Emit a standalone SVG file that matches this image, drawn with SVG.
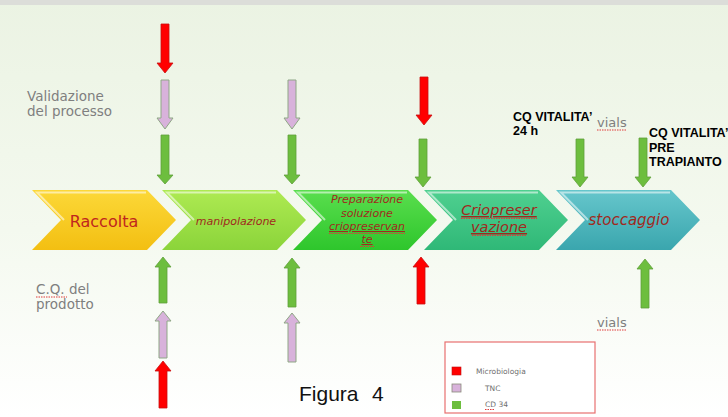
<svg xmlns="http://www.w3.org/2000/svg" width="728" height="417" viewBox="0 0 728 417">
<defs>
<linearGradient id="bg" x1="0" y1="0" x2="0" y2="1">
<stop offset="0" stop-color="#ebf3e3"/>
<stop offset="0.55" stop-color="#f4f9ef"/>
<stop offset="1" stop-color="#ffffff"/>
</linearGradient>
<linearGradient id="gY" x1="0" y1="0" x2="0" y2="1"><stop offset="0" stop-color="#fcd838"/><stop offset="1" stop-color="#f3bf12"/></linearGradient>
<linearGradient id="gL" x1="0" y1="0" x2="0" y2="1"><stop offset="0" stop-color="#aeea52"/><stop offset="1" stop-color="#8bd43a"/></linearGradient>
<linearGradient id="gG" x1="0" y1="0" x2="0" y2="1"><stop offset="0" stop-color="#5ade4e"/><stop offset="1" stop-color="#2ec62c"/></linearGradient>
<linearGradient id="gT" x1="0" y1="0" x2="0" y2="1"><stop offset="0" stop-color="#4fd090"/><stop offset="1" stop-color="#2fb877"/></linearGradient>
<linearGradient id="gB" x1="0" y1="0" x2="0" y2="1"><stop offset="0" stop-color="#66c6cc"/><stop offset="1" stop-color="#3aa6ae"/></linearGradient>
</defs>
<style>
.hl{fill:none;stroke:#ffffff;stroke-opacity:0.55;stroke-width:2}
.gray{font-family:"DejaVu Sans",sans-serif;fill:#7f7f7f}
.lbl{font-family:"DejaVu Sans",sans-serif;font-style:italic;fill:#a02a1e;text-anchor:middle}
.bold{font-family:"Liberation Sans",Arial,sans-serif;font-weight:bold;font-size:12.5px;fill:#000}
.red{fill:#ff0000;stroke:#c81010;stroke-width:0.8}
.lav{fill:#d8b2db;stroke:#8fa786;stroke-width:1}
.grn{fill:#6dbe3e;stroke:#5f9f3a;stroke-width:0.8}
.wavy{fill:none;stroke:#e03a3a;stroke-width:1;stroke-dasharray:1.5 1}
.leg{font-family:"DejaVu Sans",sans-serif;font-size:7.5px;fill:#707070}
</style>
<rect x="0" y="0" width="728" height="417" fill="url(#bg)"/>
<rect x="0" y="0" width="728" height="5" fill="#dcddd9"/>

<g id="raccolta">
<polygon points="32,190 147,190 176,220 147,250 32,250 61,220" fill="url(#gY)"/>
<polyline class="hl" points="64,220 37,192.5 146,192.5"/>
<text x="104" y="227" font-family="DejaVu Sans,sans-serif" font-size="16" fill="#c0261e" text-anchor="middle">Raccolta</text>
</g>
<g id="manipolazione">
<polygon points="162,190 277,190 306,220 277,250 162,250 191,220" fill="url(#gL)"/>
<polyline class="hl" points="194,220 167,192.5 276,192.5"/>
<text class="lbl" x="236" y="225" font-size="11">manipolazione</text>
</g>
<g id="preparazione">
<polygon points="293,190 408,190 437,220 408,250 293,250 322,220" fill="url(#gG)"/>
<polyline class="hl" points="325,220 298,192.5 407,192.5"/>
<text class="lbl" x="367" y="203" font-size="11">Preparazione</text>
<text class="lbl" x="367" y="217" font-size="11">soluzione</text>
<text class="lbl" x="367" y="230" font-size="11" text-decoration="underline">criopreservan</text>
<text class="lbl" x="367" y="243" font-size="11" text-decoration="underline">te</text>
<path class="wavy" d="M329,233.5 H405 M360,246.5 H374"/>
</g>
<g id="criopreservazione">
<polygon points="424,190 539,190 568,220 539,250 424,250 453,220" fill="url(#gT)"/>
<polyline class="hl" points="456,220 429,192.5 538,192.5"/>
<text class="lbl" x="499" y="215" font-size="14.5" text-decoration="underline">Criopreser</text>
<text class="lbl" x="499" y="232" font-size="14.5" text-decoration="underline">vazione</text>
<path class="wavy" d="M461,218.5 H537 M472,235.5 H527"/>
</g>
<g id="stoccaggio">
<polygon points="556,190 671,190 700,220 671,250 556,250 585,220" fill="url(#gB)"/>
<polyline class="hl" points="588,220 561,192.5 670,192.5"/>
<text class="lbl" x="629" y="225" font-size="15">stoccaggio</text>
</g>

<g id="labels">
<text class="gray" x="27" y="101" font-size="13.5">Validazione</text>
<text class="gray" x="27" y="116" font-size="13.5">del processo</text>
<text class="gray" x="36" y="294" font-size="13.5">C.Q. del</text>
<text class="gray" x="36" y="309" font-size="13.5">prodotto</text>
<path class="wavy" d="M36,297 H67"/>
<text class="bold" x="513" y="121">CQ VITALITA’</text>
<text class="bold" x="513" y="135">24 h</text>
<text class="gray" x="597" y="127" font-size="13">vials</text>
<path class="wavy" d="M597,130 H626"/>
<text class="bold" x="649" y="137">CQ VITALITA’</text>
<text class="bold" x="649" y="152">PRE</text>
<text class="bold" x="649" y="166">TRAPIANTO</text>
<text class="gray" x="597" y="327" font-size="13">vials</text>
<path class="wavy" d="M597,330 H626"/>
<text x="299" y="401" font-family="Liberation Sans,Arial,sans-serif" font-size="21" fill="#111">Figura<tspan x="372">4</tspan></text>
</g>

<g id="arrows">
<path class="red" d="M161,24 H169 V63 H173 L165,73 L157,63 H161 Z"/>
<path class="lav" d="M161,80 H169 V118 H173 L165,129 L157,118 H161 Z"/>
<path class="grn" d="M161,135 H169 V175 H173 L165,184 L157,175 H161 Z"/>
<path class="lav" d="M288,80 H296 V118 H300 L292,129 L284,118 H288 Z"/>
<path class="grn" d="M288,135 H296 V175 H300 L292,184 L284,175 H288 Z"/>
<path class="red" d="M420,77 H428 V115 H432 L424,125 L416,115 H420 Z"/>
<path class="grn" d="M419,139 H427 V177 H431 L423,187 L415,177 H419 Z"/>
<path class="grn" d="M576,139 H584 V177 H588 L580,187 L572,177 H576 Z"/>
<path class="grn" d="M639,138 H647 V177 H651 L643,187 L635,177 H639 Z"/>
<path class="grn" d="M159,303 V267 H155 L163,257 L171,267 H167 V303 Z"/>
<path class="lav" d="M159,358 V321 H155 L163,311 L171,321 H167 V358 Z"/>
<path class="red" d="M159,408 V371 H155 L163,361 L171,371 H167 V408 Z"/>
<path class="grn" d="M288,307 V268 H284 L292,258 L300,268 H296 V307 Z"/>
<path class="lav" d="M288,362 V323 H284 L292,313 L300,323 H296 V362 Z"/>
<path class="red" d="M417,304 V267 H413 L421,257 L429,267 H425 V304 Z"/>
<path class="grn" d="M641,308 V269 H637 L645,259 L653,269 H649 V308 Z"/>
</g>

<g id="legend">
<rect x="445" y="342" width="150" height="71" fill="#ffffff" stroke="#e87070" stroke-width="1.2"/>
<rect x="452" y="367" width="9" height="8" fill="#ff0000" stroke="#c01010" stroke-width="0.6"/>
<rect x="452" y="384" width="9" height="8" fill="#d8b2db" stroke="#8a8a7a" stroke-width="0.8"/>
<rect x="452" y="401" width="9" height="8" fill="#6dbe3e"/>
<text class="leg" x="476" y="374">Microbiologia</text>
<text class="leg" x="485" y="391">TNC</text>
<text class="leg" x="485" y="407">CD 34</text>
<path class="wavy" d="M485,409.5 H494"/>
</g>
</svg>
